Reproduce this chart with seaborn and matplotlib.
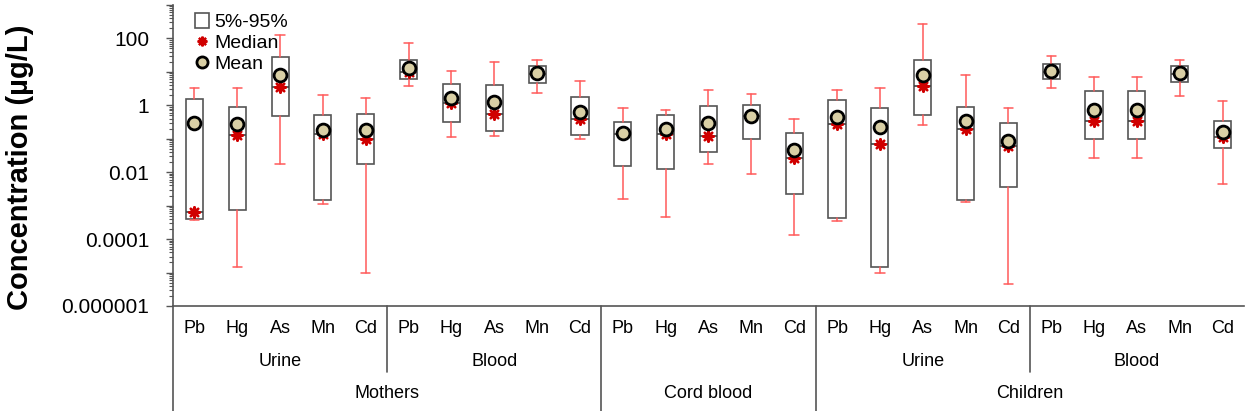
import matplotlib
matplotlib.use("Agg")
import matplotlib.pyplot as plt
import matplotlib.ticker as mticker
from matplotlib.lines import Line2D
from matplotlib.patches import Patch
import numpy as np
import pandas as pd
import seaborn as sns

# metals per sample group (ug/L)
metals = ["Pb", "Hg", "As", "Mn", "Cd"] * 5
matrix = ["Urine", "Blood", "", "Urine", "Blood"]
cohort = ["Mothers", "Cord blood", "Children"]

p95 = [3.2, 3.2, 126, 2.0, 1.66,
       72, 10.5, 20, 22, 5.4,
       0.85, 0.74, 2.8, 2.2, 0.38,
       2.95, 3.2, 263, 7.9, 0.81,
       30, 6.9, 6.9, 22, 1.3]
q75 = [1.55, 0.87, 28, 0.50, 0.56,
       22, 4.3, 4.0, 14.5, 1.8,
       0.32, 0.51, 0.98, 1.0, 0.145,
       1.45, 0.85, 22, 0.87, 0.30,
       16.6, 2.6, 2.6, 14.5, 0.35]
q25 = [4.1e-4, 7.2e-4, 0.49, 1.5e-3, 0.018,
       5.9, 0.31, 0.17, 4.7, 0.13,
       0.0155, 0.0126, 0.041, 0.095, 2.3e-3,
       4.3e-4, 1.5e-5, 0.51, 1.5e-3, 3.5e-3,
       6.2, 0.095, 0.095, 4.8, 0.054]
p5 = [3.6e-4, 1.5e-5, 0.018, 1.15e-3, 9.5e-6,
      3.7, 0.11, 0.117, 2.3, 0.10,
      1.6e-3, 4.6e-4, 0.018, 9.1e-3, 1.35e-4,
      3.5e-4, 9.8e-6, 0.26, 1.3e-3, 4.6e-6,
      3.4, 0.026, 0.026, 1.95, 4.5e-3]
median = [6.5e-4, 0.126, 3.5, 0.138, 0.095,
          10, 1.15, 0.54, 8.5, 0.38,
          0.135, 0.138, 0.117, 0.47, 0.026,
          0.28, 0.068, 3.7, 0.20, 0.062,
          9.8, 0.34, 0.34, 8.9, 0.11]
mean = [0.30, 0.275, 7.8, 0.18, 0.18,
        13, 1.6, 1.23, 9.1, 0.62,
        0.148, 0.20, 0.30, 0.48, 0.046,
        0.46, 0.23, 7.8, 0.33, 0.085,
        10.7, 0.72, 0.72, 9.5, 0.16]

df = pd.DataFrame({"pos": np.arange(len(metals)), "metal": metals,
                   "median": median, "mean": mean})

sns.set_theme(style="ticks")
plt.rcParams["font.family"] = ["Liberation Sans", "DejaVu Sans"]
plt.rcParams["text.color"] = "black"
plt.rcParams["ytick.labelcolor"] = "black"

fig = plt.figure(figsize=(12.48, 4.11), dpi=100)
ax = fig.add_axes([0.1386, 0.2555, 0.8582, 0.7325])

grey = "#555555"
red_line = "#ff5a5a"

stats = [dict(whislo=a, q1=b, med=c, q3=d, whishi=e)
         for a, b, c, d, e in zip(p5, q25, median, q75, p95)]
ax.bxp(stats, positions=df["pos"], widths=0.4, showfliers=False,
       patch_artist=True,
       boxprops=dict(facecolor="white", edgecolor=grey, linewidth=1.2),
       medianprops=dict(color="#404040", linewidth=1.2),
       whiskerprops=dict(color=red_line, linewidth=1.1),
       capprops=dict(color=red_line, linewidth=1.1),
       capwidths=0.22, manage_ticks=False)

sns.scatterplot(data=df, x="pos", y="median", ax=ax, marker=(8, 2, 0),
                s=55, color="#d00000", linewidth=1.8, zorder=4, legend=False)
sns.scatterplot(data=df, x="pos", y="mean", ax=ax, marker="o", s=85,
                color="#d9cfa5", edgecolor="black", linewidth=2, zorder=5,
                legend=False)

ax.set_yscale("log")
ax.set_ylim(1e-6, 1e3)
ax.set_xlim(-0.5, len(metals) - 0.5)
ax.yaxis.set_major_locator(mticker.LogLocator(base=10, numticks=20))
ax.yaxis.set_minor_locator(mticker.LogLocator(base=10, subs=np.arange(2, 10), numticks=20))
labels = {-6: "0.000001", -4: "0.0001", -2: "0.01", 0: "1", 2: "100"}
ax.yaxis.set_major_formatter(mticker.FuncFormatter(
    lambda v, p: labels.get(int(round(np.log10(v))), "")))
ax.tick_params(axis="y", which="major", length=5, width=1, color=grey,
               pad=12, labelsize=15, labelcolor="black")
ax.tick_params(axis="y", which="minor", length=3, width=0.8, color=grey)
ax.set_xticks([])
ax.set_xlabel("")
ax.set_ylabel("")
for side in ["top", "right"]:
    ax.spines[side].set_visible(False)
for side in ["left", "bottom"]:
    ax.spines[side].set_color(grey)
    ax.spines[side].set_linewidth(1.2)

fig.text(0.016, 0.594, "Concentration (µg/L)", rotation=90, ha="center",
         va="center", fontsize=21, fontweight="bold", color="black")

# hierarchical x labels
tr = ax.get_xaxis_transform()
for i, m in enumerate(metals):
    ax.text(i, -0.076, m, transform=tr, ha="center", va="center",
            fontsize=13, color="black")
for g, name in enumerate(matrix):
    if name:
        ax.text(g * 5 + 2, -0.183, name, transform=tr, ha="center",
                va="center", fontsize=13, color="black")
for g, name in zip([4.5, 12, 19.5], cohort):
    ax.text(g, -0.292, name, transform=tr, ha="center", va="center",
            fontsize=13, color="black")
for xs in [4.5, 19.5]:
    ax.plot([xs, xs], [0, -0.219], transform=tr, color=grey, lw=1.2,
            clip_on=False)
for xs in [-0.5, 9.5, 14.5]:
    ax.plot([xs, xs], [0, -0.36], transform=tr, color=grey, lw=1.2,
            clip_on=False)

handles = [
    Patch(facecolor="white", edgecolor=grey, linewidth=1.2, label="5%-95%"),
    Line2D([], [], marker=(8, 2, 0), color="#d00000", linestyle="none",
           markersize=7, markeredgewidth=1.6, label="Median"),
    Line2D([], [], marker="o", markerfacecolor="#d9cfa5",
           markeredgecolor="black", markeredgewidth=2, linestyle="none",
           markersize=8, label="Mean"),
]
ax.legend(handles=handles, loc="upper left", bbox_to_anchor=(0.013, 0.998),
          frameon=False, fontsize=14, handlelength=0.75, handleheight=0.75,
          handletextpad=0.25, labelspacing=0.15, borderaxespad=0)

fig.savefig("out.png", dpi=100)
